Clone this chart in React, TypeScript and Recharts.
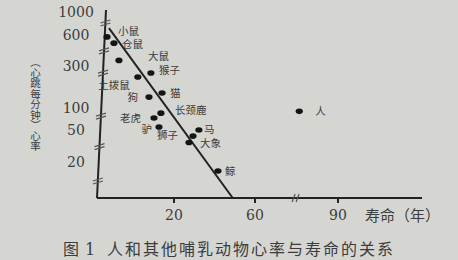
import React from 'react';
import {
  ReferenceDot,
  ReferenceLine,
  Scatter,
  ScatterChart,
  XAxis,
  YAxis,
} from 'recharts';

// animals, lifespan (years) and resting heart rate (beats per minute)
const animals = ['小鼠', '仓鼠', '大鼠', '猴子', '土拨鼠', '猫', '狗', '长颈鹿', '老虎', '驴', '马', '狮子', '大象', '鲸', '人'];
const lifespans = [2.6, 4.4, 5.7, 14, 10.6, 16.9, 13.5, 16.6, 14.8, 16.1, 32.3, 29.4, 27.4, 41.7, 76];
const heartRates = [575, 500, 340, 250, 225, 148, 133, 85, 73, 55, 50, 42, 35, 15, 90];

const yearTicks = [20, 60, 90];
const rateTicks = [20, 50, 100, 300, 600, 1000];

// trend line end points (years, bpm)
const trendYears = [3.1, 49];
const trendRates = [700, 0];

// broken axes: where each labelled value sits along the axis (axis units = px)
const yearScale = { values: [0, 20, 60, 90], at: [0, 77, 158, 241] };
const rateScale = { values: [0, 20, 50, 100, 300, 600, 1000], at: [0, 36, 68, 90, 132, 163, 186] };
const yBreakRates = [800, 430, 256, 80, 32, 10];
const xBreakYear = 74.5;
const axisLean = 9 / 188; // the vertical axis leans slightly right

// label placement next to each dot
const labelPos: Record<string, { dx: number; dy: number; end?: boolean }> = {
  小鼠: { dx: 11, dy: -6 },
  仓鼠: { dx: 8, dy: 1.5 },
  大鼠: { dx: 29, dy: -4 },
  猴子: { dx: 8, dy: -3 },
  土拨鼠: { dx: -8, dy: 8, end: true },
  猫: { dx: 8, dy: 0 },
  狗: { dx: -11, dy: 0, end: true },
  长颈鹿: { dx: 14, dy: -3 },
  老虎: { dx: -13, dy: 0, end: true },
  驴: { dx: -7, dy: 2, end: true },
  马: { dx: 5, dy: -1 },
  狮子: { dx: -15, dy: -1, end: true },
  大象: { dx: 11, dy: 1 },
  鲸: { dx: 7, dy: 0 },
  人: { dx: 16, dy: 0 },
};

const interp = (v: number, s: { values: number[]; at: number[] }, log: boolean) => {
  const { values, at } = s;
  let i = 0;
  while (i < values.length - 2 && v > values[i + 1]) i++;
  const a = values[i];
  const b = values[i + 1];
  const t = log && a > 0 ? (Math.log(v) - Math.log(a)) / (Math.log(b) - Math.log(a)) : (v - a) / (b - a);
  return at[i] + t * (at[i + 1] - at[i]);
};
const tx = (years: number) => interp(years, yearScale, false);
const ty = (rate: number) => interp(rate, rateScale, true);

const points = animals.map((name, i) => ({ name, x: tx(lifespans[i]), y: ty(heartRates[i]) }));

const INK = '#222';
const TEXT = '#3c3c3c';
const NUM_FONT = '"DejaVu Serif", serif';
const CJK_FONT = '"Noto Sans CJK SC", sans-serif';

const AnimalDot = (props: any) => {
  const { cx, cy, payload } = props;
  const p = labelPos[payload.name];
  return (
    <g>
      <ellipse cx={cx} cy={cy} rx={3.6} ry={2.8} fill="#151515" />
      <text
        x={cx + p.dx}
        y={cy + p.dy}
        dy="0.36em"
        textAnchor={p.end ? 'end' : 'start'}
        fontSize={10.5}
        fontFamily={CJK_FONT}
        fill={TEXT}
      >
        {payload.name}
      </text>
    </g>
  );
};

const BreakMark = (props: any) => {
  const { cx, cy, flat } = props;
  if (cx == null) return null;
  const d = flat
    ? `M${cx - 3},${cy + 4} L${cx},${cy - 4} M${cx + 1},${cy + 4} L${cx + 4},${cy - 4}`
    : `M${cx - 5},${cy + 1} L${cx + 5},${cy - 2} M${cx - 5},${cy + 4} L${cx + 5},${cy + 1}`;
  return <path d={d} stroke="#555" strokeWidth={1.2} fill="none" />;
};

const RateTick = (props: any) => {
  const { x, y, payload } = props;
  const rate = rateTicks.find((r) => Math.abs(ty(r) - payload.value) < 0.01);
  return (
    <text x={x - 21} y={y} dy="0.36em" textAnchor="middle" fontSize={14} fontFamily={NUM_FONT} fill={TEXT}>
      {rate}
    </text>
  );
};

const App: React.FC = () => {
  return (
    <div style={{ position: 'absolute', left: 0, top: 0, width: 458, height: 260, background: '#d5d6d2' }}>
      <ScatterChart width={458} height={260} margin={{ top: 8, right: 36, bottom: 32, left: 57 }}>
        <XAxis
          type="number"
          dataKey="x"
          domain={[0, 325]}
          allowDataOverflow
          height={30}
          ticks={yearTicks.map(tx)}
          interval={0}
          tickFormatter={(v: number) => String(yearTicks.find((t) => Math.abs(tx(t) - v) < 0.01))}
          axisLine={{ stroke: INK, strokeWidth: 2 }}
          tickLine={{ stroke: INK, strokeWidth: 2 }}
          tickSize={5}
          tickMargin={7}
          tick={{ fontSize: 14, fontFamily: NUM_FONT, fill: TEXT }}
        />
        <YAxis
          type="number"
          dataKey="y"
          domain={[0, 190]}
          allowDataOverflow
          width={40}
          ticks={rateTicks.map(ty)}
          interval={0}
          axisLine={false}
          tickLine={false}
          tickSize={0}
          tickMargin={0}
          tick={RateTick}
        />
        <ReferenceLine
          segment={[{ x: 0, y: 0 }, { x: 188 * axisLean, y: 188 }]}
          stroke={INK}
          strokeWidth={2}
          ifOverflow="visible"
        />
        {yBreakRates.map((r) => (
          <ReferenceDot
            key={r}
            x={ty(r) * axisLean}
            y={ty(r)}
            ifOverflow="visible"
            shape={(p: any) => <BreakMark {...p} />}
          />
        ))}
        <ReferenceDot
          x={tx(xBreakYear)}
          y={0}
          ifOverflow="visible"
          shape={(p: any) => <BreakMark {...p} flat />}
        />
        <ReferenceLine
          segment={[
            { x: tx(trendYears[0]), y: ty(trendRates[0]) },
            { x: tx(trendYears[1]), y: ty(trendRates[1]) },
          ]}
          stroke={INK}
          strokeWidth={2}
          ifOverflow="visible"
        />
        <Scatter data={points} shape={AnimalDot} isAnimationActive={false} />
      </ScatterChart>

      <div
        style={{
          position: 'absolute',
          left: 29,
          top: 57,
          writingMode: 'vertical-rl',
          textOrientation: 'upright',
          fontSize: 10.5,
          lineHeight: '12px',
          fontFamily: CJK_FONT,
          color: TEXT,
          whiteSpace: 'nowrap',
        }}
      >
        （心跳每分钟）心率
      </div>
      <div
        style={{
          position: 'absolute',
          left: 365,
          top: 206,
          fontSize: 15,
          lineHeight: '18px',
          fontFamily: CJK_FONT,
          color: TEXT,
          whiteSpace: 'nowrap',
        }}
      >
        寿命（年）
      </div>
      <div
        style={{
          position: 'absolute',
          left: 63,
          top: 238,
          fontSize: 16,
          lineHeight: '20px',
          fontFamily: CJK_FONT,
          color: TEXT,
          whiteSpace: 'nowrap',
        }}
      >
        图<span style={{ fontFamily: NUM_FONT, marginLeft: 6 }}>1</span>
      </div>
      <div
        style={{
          position: 'absolute',
          left: 107,
          top: 238,
          fontSize: 16,
          letterSpacing: 2,
          lineHeight: '20px',
          fontFamily: CJK_FONT,
          color: TEXT,
          whiteSpace: 'nowrap',
        }}
      >
        人和其他哺乳动物心率与寿命的关系
      </div>
    </div>
  );
};

export default App;
